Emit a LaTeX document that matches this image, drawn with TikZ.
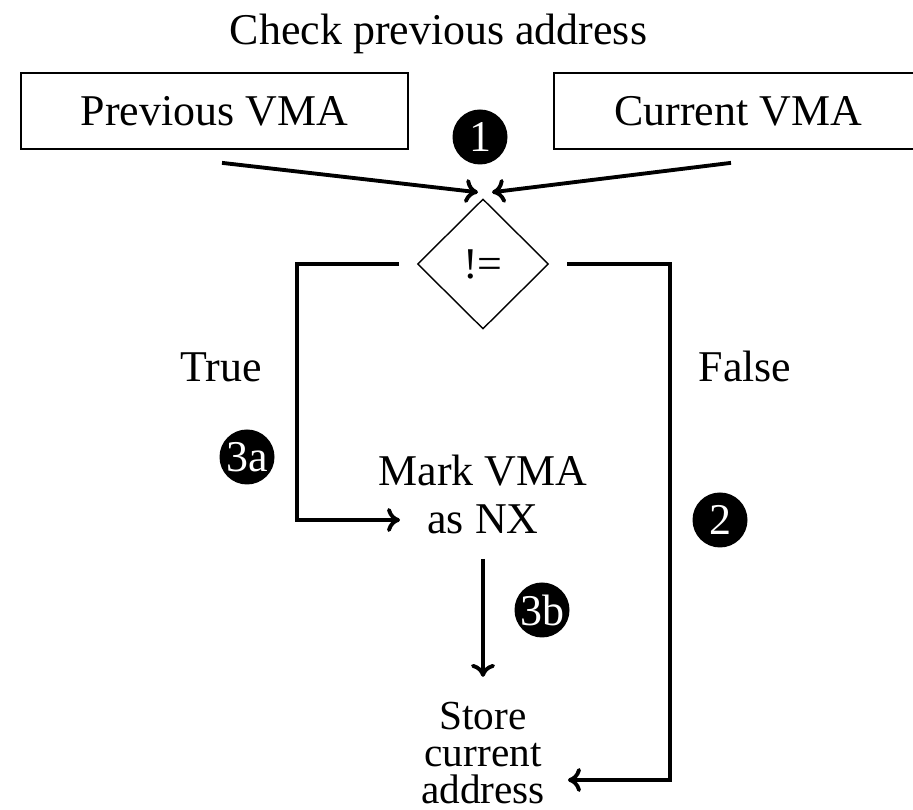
\documentclass[tikz,border=0pt]{standalone}
\usepackage{fontspec}
\setmainfont{Liberation Serif}
\usetikzlibrary{shapes,arrows,arrows.meta,positioning,calc}

\begin{document}
\begin{tikzpicture}[
  every node/.style={font=\fontsize{25}{27.3}\selectfont, inner sep=0.1cm},
  vmabox/.style={draw, line width=1pt, minimum height=1.52cm, inner xsep=1.2cm},
  decision/.style={draw, diamond, line width=0.8pt, minimum width=2.62cm, minimum height=2.6cm, inner sep=0pt},
  badge/.style={circle, fill=black, text=white, minimum size=1.1cm, inner sep=0pt},
  flow/.style={line width=2.2pt, -{Computer Modern Rightarrow[length=0.26cm,width=0.48cm]}}
]
  \useasboundingbox (0,0) rectangle (18.26,16.2);

  \node[anchor=base] (title) at (8.77,15.3) {Check previous address};
  \node[vmabox] (prev) at (4.29,13.98) {Previous VMA};
  \node[vmabox] (cur) at (14.76,13.98) {Current VMA};
  \node[badge] (n1) at (9.6,13.46) {1};

  \node[decision] (cmp) at (9.66,10.92) {!=};
  \node[anchor=base] (true) at (4.42,8.56) {True};
  \node[anchor=base] (false) at (14.9,8.56) {False};

  \node[badge] (n3a) at (4.94,7.06) {3a};
  \node[align=center] (mark) at (9.66,6.32) {Mark VMA\\as NX};
  \node[badge] (n2) at (14.4,5.8) {2};
  \node[badge] (n3b) at (10.84,4.0) {3b};
  \node[align=center, font=\fontsize{23.5}{21}\selectfont] (store) at (9.66,1.14) {Store\\current\\address};

  % free ends of the two branches
  \coordinate (tin) at (8.0,5.8);
  \coordinate (tout) at (11.36,0.6);

  \draw[flow] ([shift={(0.15,-0.26)}]prev.south) -- ([shift={(-0.1,0.12)}]cmp.north);
  \draw[flow] ([shift={(-0.14,-0.26)}]cur.south) -- ([shift={(0.18,0.12)}]cmp.north);
  \draw[flow] ([xshift=-0.36cm]cmp.west) -| ([xshift=-2.06cm]tin) -- (tin);
  \draw[flow] ([xshift=0.36cm]cmp.east) -| ([xshift=2.04cm]tout) -- (tout);
  \draw[flow] ([yshift=-0.4cm]mark.south) -- ([yshift=0.4cm]store.north);
\end{tikzpicture}
\end{document}
